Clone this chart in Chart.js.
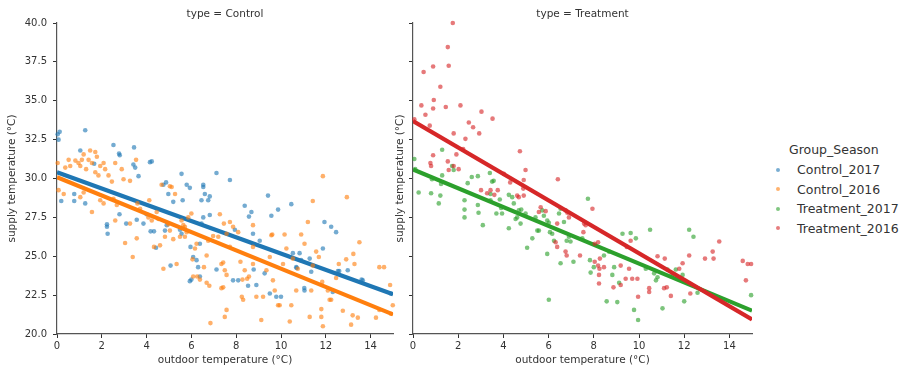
<!DOCTYPE html>
<html>
<head>
<meta charset="utf-8">
<script src="https://cdn.jsdelivr.net/npm/chart.js@4.4.1/dist/chart.umd.min.js"></script>
<style>
  body { margin: 0; background: #fff; width: 906px; height: 373px; overflow: hidden; position: relative; font-family: "DejaVu Sans", sans-serif; }
  canvas { position: absolute; top: 0; }
  #left { left: 0; }
  #right { left: 392px; }
  #legend { position: absolute; left: 770px; top: 140px; color: #333; font-size: 12.5px; }
  #legend .ttl { margin-left: 19px; height: 20px; line-height: 20px; }
  #legend .item { height: 19.5px; line-height: 19.5px; white-space: nowrap; }
  #legend .dot { display: inline-block; width: 4px; height: 4px; border-radius: 50%; margin: 0 17px 2px 6px; vertical-align: middle; }
</style>
</head>
<body>
<canvas id="left" width="397" height="373"></canvas>
<canvas id="right" width="368" height="373"></canvas>
<div id="legend"></div>
<script>
// outdoor temp (x) / supply temp (y)
const control2017 = [
  [0.03,32.85],[0.07,32.5],[0.12,33.0],[1.26,33.1],[1.04,31.8],[1.66,30.95],[2.52,32.15],[2.77,31.6],[2.8,31.5],
  [3.44,32.0],[3.41,30.9],[3.64,30.15],[3.49,30.7],[4.15,31.05],[4.23,31.1],[5.56,30.3],[5.79,29.6],[5.93,29.4],
  [6.53,29.6],[7.12,30.35],[7.72,29.9],[0.19,28.55],[0.77,29.0],[0.77,28.55],[1.26,28.4],[2.23,27.05],[2.23,26.9],
  [2.26,26.45],[2.79,27.7],[3.09,27.1],[3.56,27.35],[3.86,27.1],[4.0,27.7],[4.18,26.6],[4.33,26.6],[4.42,25.55],
  [4.75,29.6],[4.87,29.75],[4.97,29.0],[5.19,28.5],[4.82,26.65],[4.9,27.0],[5.07,24.4],[5.49,26.7],[5.56,26.45],
  [5.61,28.6],[5.96,25.6],[6.08,24.95],[6.0,23.5],[5.93,23.4],[6.23,24.75],[6.3,24.3],[6.38,25.8],[6.45,28.6],
  [6.53,29.45],[6.6,29.0],[6.75,28.6],[6.82,28.85],[6.53,27.5],[6.45,27.1],[6.38,23.7],[6.82,27.65],[7.12,24.15],
  [7.86,23.45],[7.94,26.7],[8.09,23.45],[8.38,28.25],[8.57,27.55],[8.68,27.85],[8.75,26.45],[8.78,24.15],[8.53,23.1],
  [8.9,23.15],[9.05,26.0],[9.27,23.9],[9.42,28.9],[9.5,22.6],[9.57,27.6],[9.79,22.4],[10.0,22.4],[9.87,28.0],
  [10.46,28.35],[10.53,25.2],[10.68,24.3],[10.83,25.2],[10.9,24.75],[11.05,22.8],[11.28,24.85],[11.35,24.0],
  [11.87,25.5],[11.94,27.2],[12.24,26.9],[12.46,26.55],[12.31,22.7],[12.54,24.05],[12.98,24.1],[13.65,23.45],
  [10.7,24.25],[11.04,22.96],[12.6,24.05],[13.6,23.5],[14.9,22.6]
];
const control2016 = [
  [0.03,31.0],[0.37,30.7],[0.52,31.2],[0.59,30.8],[0.82,31.15],[0.96,31.0],[1.04,30.8],[1.11,31.2],[1.19,31.55],
  [1.3,30.6],[1.41,31.2],[1.48,31.8],[1.71,31.7],[1.78,31.4],[1.56,31.0],[1.71,30.4],[1.85,30.2],[1.93,30.8],
  [2.08,31.0],[2.15,30.6],[2.3,30.2],[2.45,29.8],[2.6,31.0],[2.89,30.6],[2.97,29.95],[3.26,29.85],[3.53,31.2],
  [4.67,29.6],[5.04,29.5],[11.87,30.15],[0.07,29.25],[0.3,29.0],[1.04,28.8],[1.19,29.1],[1.56,27.85],[1.93,28.6],
  [2.08,28.4],[2.52,28.7],[2.6,27.3],[2.67,28.3],[3.04,25.85],[3.26,27.1],[3.38,24.95],[3.56,26.15],[3.59,28.4],
  [3.71,28.05],[4.08,27.5],[4.12,28.6],[4.23,27.3],[4.45,27.85],[4.53,27.4],[4.33,25.6],[4.6,25.7],[4.75,24.2],
  [4.82,26.25],[4.97,27.05],[5.04,26.65],[5.19,26.1],[5.12,29.45],[5.27,29.0],[5.34,24.5],[5.56,27.3],[5.64,27.0],
  [5.71,26.9],[5.79,26.55],[5.49,26.25],[5.71,26.25],[5.86,27.5],[6.0,27.75],[6.05,24.8],[6.16,25.5],[6.23,25.8],
  [6.08,23.7],[6.26,23.7],[6.38,23.5],[6.56,24.3],[6.68,25.05],[6.75,26.0],[6.68,23.3],[6.8,23.1],[6.85,20.7],
  [6.97,26.3],[7.2,26.25],[7.27,27.7],[7.45,27.1],[7.57,26.45],[7.34,24.5],[7.42,24.6],[7.49,24.1],[7.57,23.8],
  [7.42,23.0],[7.34,22.95],[7.57,21.55],[7.49,21.1],[7.72,27.2],[7.86,26.9],[7.72,25.6],[8.09,26.55],[8.19,24.65],
  [8.28,23.5],[8.25,22.4],[8.31,22.2],[8.38,24.1],[8.49,23.55],[8.57,23.7],[8.75,27.0],[8.75,25.6],[8.75,24.5],
  [8.9,22.4],[9.12,20.9],[9.2,22.4],[9.35,24.1],[9.5,24.95],[9.57,26.35],[9.61,26.4],[9.64,23.45],[9.72,22.8],
  [9.87,21.85],[9.94,21.85],[10.09,24.5],[10.16,26.4],[10.24,25.5],[10.39,20.8],[10.46,21.85],[10.53,24.85],
  [10.68,22.8],[10.75,24.2],[10.9,26.4],[11.05,25.8],[11.2,27.2],[11.28,21.1],[11.35,22.8],[11.42,24.4],
  [11.42,28.55],[11.57,25.3],[11.69,24.95],[11.8,21.6],[11.8,21.1],[11.87,20.5],[11.84,23.35],[12.09,22.8],
  [12.17,22.2],[12.24,22.2],[12.46,23.6],[12.58,24.5],[12.76,21.5],[12.91,24.8],[12.94,28.8],[13.2,21.2],
  [13.13,20.6],[13.23,25.15],[13.28,24.5],[13.43,21.05],[13.5,25.9],[14.24,21.05],[14.39,24.3],[14.6,24.3],
  [14.39,21.55],[14.87,23.15],[14.91,21.3],[14.99,21.85]
];
const treatment2017 = [
  [0.06,31.25],[1.29,31.85],[0.1,30.6],[0.84,29.95],[1.29,30.2],[1.24,29.65],[1.73,30.8],[1.8,30.55],[2.42,29.7],
  [2.6,30.1],[2.87,30.15],[3.4,30.35],[3.5,29.8],[3.57,29.85],[0.25,29.1],[0.8,29.05],[1.21,28.9],[1.14,28.4],
  [2.28,28.6],[2.28,28.0],[2.28,27.5],[2.87,28.3],[2.9,27.8],[3.09,27.0],[3.43,28.6],[3.43,29.0],[3.84,28.65],
  [3.69,27.75],[3.94,27.75],[3.9,28.1],[4.24,28.95],[4.39,28.8],[4.46,28.4],[4.24,26.8],[4.54,27.4],[4.61,27.5],
  [4.76,27.1],[4.68,27.95],[4.79,28.0],[4.98,27.75],[5.05,25.55],[5.28,26.15],[5.42,27.5],[5.5,26.65],[5.57,26.65],
  [5.72,27.95],[5.79,27.6],[5.94,27.3],[6.01,27.15],[5.94,25.15],[6.06,26.55],[6.16,26.45],[6.24,26.0],[6.46,27.75],
  [6.53,28.05],[6.68,27.2],[6.53,24.55],[6.01,22.2],[6.8,26.0],[6.9,26.25],[6.97,25.95],[7.1,24.65],[7.49,26.15],
  [7.74,28.7],[7.83,24.75],[7.86,23.95],[8.0,24.3],[8.45,25.05],[8.67,25.3],[8.57,22.1],[8.82,23.8],[8.9,24.3],
  [9.04,22.05],[9.12,23.3],[9.27,26.45],[9.63,26.5],[9.86,26.15],[9.78,21.55],[9.96,20.9],[10.3,24.2],[10.49,26.7],
  [10.67,23.9],[10.75,23.45],[10.82,23.65],[11.04,21.65],[11.26,24.15],[11.48,23.8],[11.63,24.15],[11.93,23.8],
  [12.0,22.1],[12.22,26.7],[12.41,26.25],[12.59,22.65],[14.96,22.5]
];
const treatment2016 = [
  [1.76,40.0],[1.54,38.45],[1.58,37.25],[0.47,36.85],[0.89,37.2],[1.21,35.9],[0.37,34.7],[0.55,34.1],[0.92,35.05],
  [0.89,34.5],[1.45,34.6],[2.1,34.7],[0.74,33.4],[0.06,33.8],[3.03,34.3],[3.52,33.85],[2.47,33.6],[2.66,33.3],
  [2.93,32.9],[1.8,32.9],[2.32,32.55],[0.89,31.5],[0.77,31.0],[0.8,30.8],[1.54,31.1],[1.8,30.8],[2.02,30.6],
  [1.92,31.55],[1.58,30.55],[2.22,31.9],[4.73,31.75],[4.98,30.55],[4.02,30.3],[4.9,29.9],[6.41,29.95],[4.3,29.75],
  [3.01,29.25],[3.28,29.05],[3.43,29.25],[3.6,28.95],[3.75,29.25],[4.88,29.35],[4.61,28.9],[4.68,28.8],[4.9,28.9],
  [5.57,27.85],[5.87,27.9],[5.65,28.15],[6.38,27.1],[6.31,25.9],[6.38,25.6],[6.75,27.95],[6.83,27.8],[6.9,27.5],
  [6.75,25.3],[6.8,25.05],[7.39,25.05],[7.54,26.55],[7.57,27.1],[7.64,27.0],[7.94,28.05],[8.04,25.8],[8.19,25.9],
  [8.04,24.65],[8.19,24.4],[8.25,24.2],[8.27,24.85],[8.45,24.3],[8.23,23.8],[8.23,23.25],[8.87,23.0],[9.19,23.15],
  [9.19,24.4],[9.46,25.6],[9.63,26.0],[9.56,24.2],[9.41,23.55],[9.7,23.55],[9.93,23.55],[9.96,22.4],[10.45,22.95],
  [10.45,22.7],[10.82,25.0],[11.14,24.85],[11.11,22.95],[11.23,23.0],[11.41,22.45],[11.78,24.2],[11.93,24.55],
  [12.22,25.05],[12.27,22.6],[12.92,24.85],[13.26,25.3],[13.3,24.85],[13.55,25.95],[14.59,24.7],[14.81,24.5],
  [14.96,24.5],[14.73,23.45]
];

// fitted regression lines, end values
const fitX = [0, 15];
const fitControl2017 = [30.4, 22.56];
const fitControl2016 = [30.08, 21.26];
const fitTreatment2017 = [30.58, 21.5];
const fitTreatment2016 = [33.7, 20.94];

const xTicks = [0, 2, 4, 6, 8, 10, 12, 14];
const yTicks = [20.0, 22.5, 25.0, 27.5, 30.0, 32.5, 35.0, 37.5, 40.0];

const groups = ['Control_2017', 'Control_2016', 'Treatment_2017', 'Treatment_2016'];
const colors = ['31,119,180', '255,127,14', '44,160,44', '214,39,40'];

const FONT = '"DejaVu Sans", sans-serif';
const INK = '#333';

function pts(arr) { return arr.map(p => ({ x: p[0], y: p[1] })); }
function fit(ys) { return fitX.map((x, i) => ({ x: x, y: ys[i] })); }

function scatterSet(label, arr, c, order) {
  return {
    type: 'scatter', label: label, data: pts(arr), order: order, clip: false,
    pointRadius: 2.3, pointBorderWidth: 0, pointBackgroundColor: 'rgba(' + c + ',0.62)'
  };
}
function lineSet(label, ys, c, order) {
  return {
    type: 'line', label: label, data: fit(ys), order: order,
    borderColor: 'rgb(' + c + ')', borderWidth: 4.2, pointRadius: 0, borderCapStyle: 'butt'
  };
}

const facetTitle = {
  id: 'facetTitle',
  afterDraw(chart, args, opts) {
    const ctx = chart.ctx, a = chart.chartArea;
    ctx.save();
    ctx.font = '10.5px ' + FONT;
    ctx.fillStyle = INK;
    ctx.textAlign = 'center';
    ctx.textBaseline = 'middle';
    ctx.fillText(opts.text, (a.left + a.right) / 2, 14);
    ctx.restore();
  }
};

function makeChart(id, title, datasets, yWidth, showYLabels, padRight, yTitlePad) {
  return new Chart(document.getElementById(id), {
    data: { datasets: datasets },
    plugins: [facetTitle],
    options: {
      responsive: false,
      animation: false,
      layout: { padding: { top: 23, right: padRight, bottom: 0, left: 0 } },
      plugins: { legend: { display: false }, tooltip: { enabled: false }, facetTitle: { text: title } },
      scales: {
        x: {
          type: 'linear', min: 0, max: 15,
          afterFit(s) { s.height = 39; },
          afterBuildTicks(s) { s.ticks = xTicks.map(v => ({ value: v })); },
          grid: { display: true, drawOnChartArea: false, drawTicks: true, tickLength: 4, tickColor: INK },
          border: { display: true, color: '#555', width: 1.2 },
          ticks: { color: INK, font: { family: FONT, size: 10 }, padding: 2 },
          title: { display: true, text: 'outdoor temperature (°C)', color: INK, font: { family: FONT, size: 10.5 }, padding: { top: 0, bottom: 6 } }
        },
        y: {
          type: 'linear', min: 20, max: 40,
          afterFit(s) { s.width = yWidth; },
          afterBuildTicks(s) { s.ticks = yTicks.map(v => ({ value: v })); },
          grid: { display: true, drawOnChartArea: false, drawTicks: true, tickLength: 4, tickColor: INK },
          border: { display: true, color: '#555', width: 1.2 },
          ticks: { display: showYLabels, color: INK, font: { family: FONT, size: 10 }, padding: 6, callback: v => v.toFixed(1) },
          title: { display: true, text: 'supply temperature (°C)', color: INK, font: { family: FONT, size: 10.5 }, padding: { top: yTitlePad, bottom: 0 } }
        }
      }
    }
  });
}

makeChart('left', 'type = Control', [
  scatterSet(groups[0], control2017, colors[0], 4),
  lineSet(groups[0], fitControl2017, colors[0], 3),
  scatterSet(groups[1], control2016, colors[1], 2),
  lineSet(groups[1], fitControl2016, colors[1], 1)
], 57, true, 2, 6);

makeChart('right', 'type = Treatment', [
  scatterSet(groups[2], treatment2017, colors[2], 4),
  lineSet(groups[2], fitTreatment2017, colors[2], 3),
  scatterSet(groups[3], treatment2016, colors[3], 2),
  lineSet(groups[3], fitTreatment2016, colors[3], 1)
], 21, false, 8, 2);

// legend
const lg = document.getElementById('legend');
let html = '<div class="ttl">Group_Season</div>';
groups.forEach((g, i) => {
  html += '<div class="item"><span class="dot" style="background:rgba(' + colors[i] + ',0.6)"></span>' + g + '</div>';
});
lg.innerHTML = html;
</script>
</body>
</html>
